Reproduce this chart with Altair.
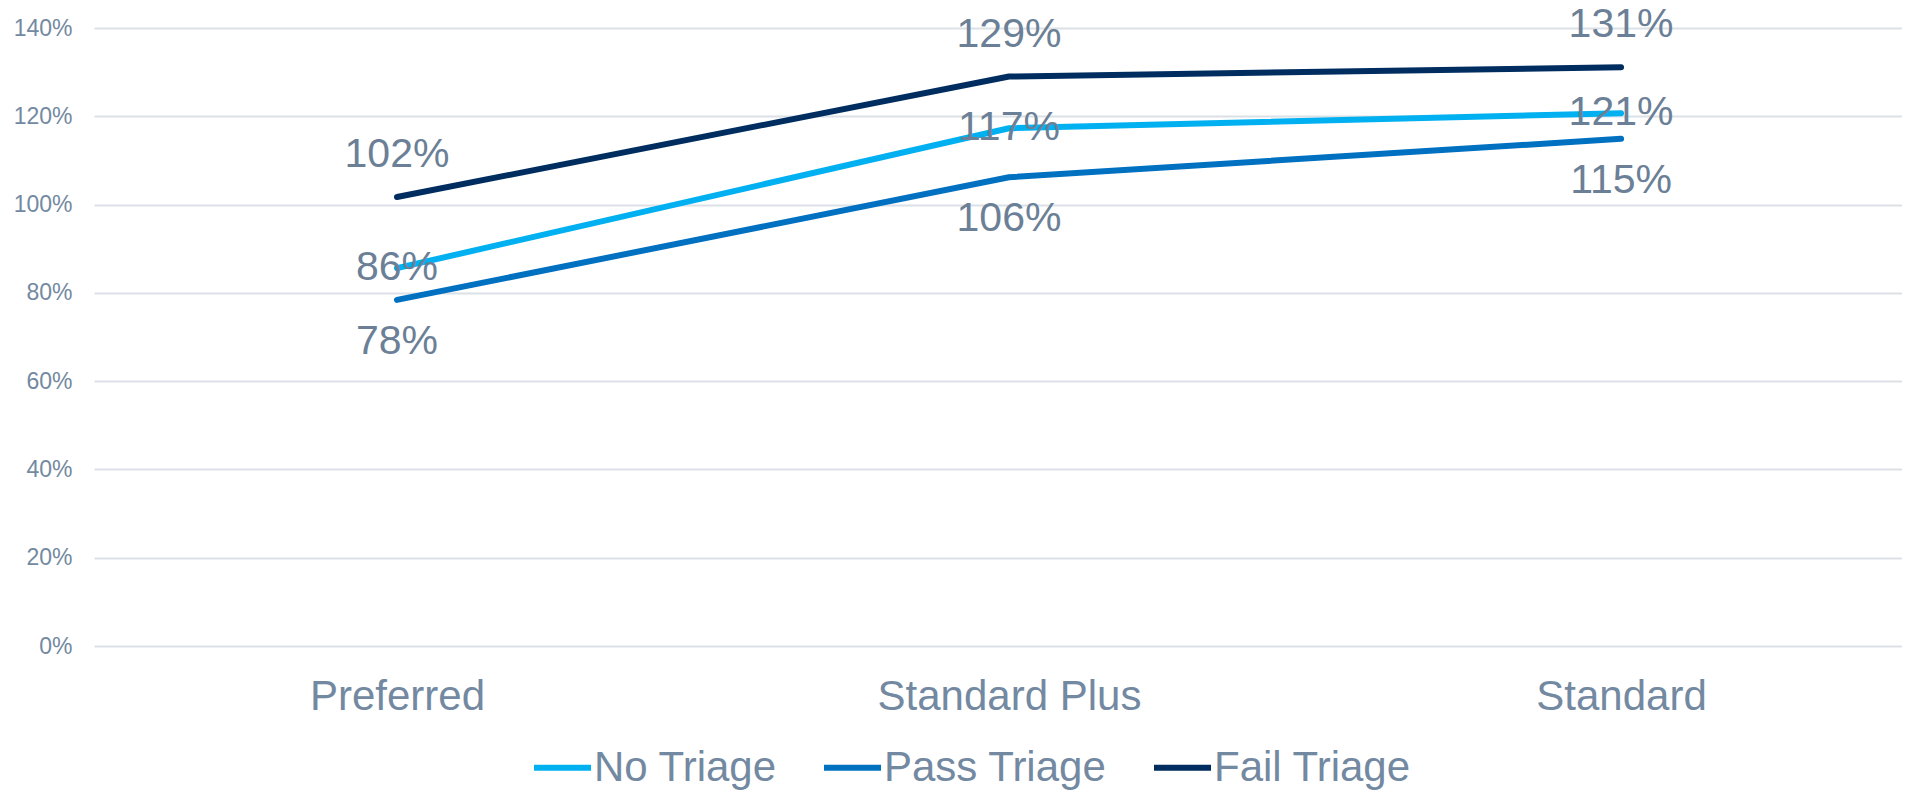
import altair as alt
import pandas as pd

categories = ["Preferred", "Standard Plus", "Standard"]
series_names = ["No Triage", "Pass Triage", "Fail Triage"]
no_triage = [0.856, 1.173, 1.207]
pass_triage = [0.784, 1.062, 1.149]
fail_triage = [1.017, 1.290, 1.311]
y_ticks = [0, 0.2, 0.4, 0.6, 0.8, 1.0, 1.2, 1.4]
colors = ["#00B0F0", "#0070C0", "#002D5F"]

rows = []
for name, vals in zip(series_names, [no_triage, pass_triage, fail_triage]):
    for c, v in zip(categories, vals):
        rows.append({"category": c, "series": name, "value": v})
df = pd.DataFrame(rows)

FONT = "Liberation Sans"
AXIS_COLOR = "#7389A1"
LABEL_COLOR = "#6B8096"

x_scale = alt.Scale(type="point", range=[0, 1830], padding=0.495)

x_enc = alt.X("category:N", sort=categories, title=None, scale=x_scale,
              axis=alt.Axis(labelFontSize=42, labelColor=AXIS_COLOR, labelFont=FONT,
                            ticks=False, domain=False, grid=False, labelPadding=30,
                            labelAngle=0, labelLimit=500))
y_enc = alt.Y("value:Q", title=None,
              scale=alt.Scale(domain=[0, 1.4], nice=False, zero=True),
              axis=alt.Axis(values=y_ticks, format=".0%", labelFontSize=23,
                            labelColor=AXIS_COLOR, labelFont=FONT, ticks=False,
                            domain=False, grid=True, gridColor="#DCE1E7",
                            gridWidth=2, labelPadding=22))

color_enc = alt.Color("series:N", sort=series_names, title=None,
                      scale=alt.Scale(domain=series_names, range=colors),
                      legend=alt.Legend(orient="none", legendX=437, legendY=708,
                                        direction="horizontal", symbolType="stroke",
                                        symbolSize=3249, symbolStrokeWidth=6,
                                        labelFontSize=42, labelFont=FONT,
                                        labelColor=AXIS_COLOR, labelOffset=0,
                                        columnPadding=35, padding=0,
                                        labelLimit=500))

base = alt.Chart(df)

lines = base.mark_line(strokeWidth=6, strokeCap="round", strokeJoin="round").encode(
    x=x_enc, y=y_enc, color=color_enc, detail="series:N")

def labels(series, dy):
    return base.transform_filter(alt.datum.series == series).mark_text(
        fontSize=41, font=FONT, color=LABEL_COLOR, dy=dy, baseline="middle",
        align="center").encode(
        x=alt.X("category:N", sort=categories),
        y=alt.Y("value:Q"),
        text=alt.Text("value:Q", format=".0%"))

chart = alt.layer(
    lines,
    labels("Fail Triage", -42),
    labels("No Triage", 0),
    labels("Pass Triage", 42),
).properties(
    width=1808, height=618,
    padding={"left": 94, "top": 28, "right": 0, "bottom": 146},
    autosize=alt.AutoSizeParams(type="none"),
    background="white",
).configure_view(stroke=None)

chart.save("out.html", embed_options={"renderer": "svg", "actions": False})
